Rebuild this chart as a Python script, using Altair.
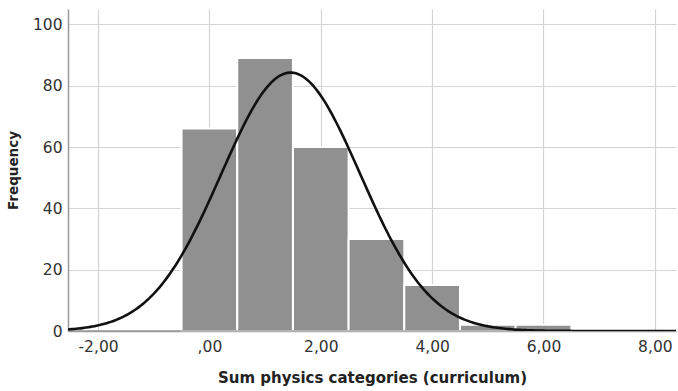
import altair as alt
import numpy as np
import pandas as pd

# Histogram bins (bin width 1, centred on integers)
bin_start = [-0.5, 0.5, 1.5, 2.5, 3.5, 4.5, 5.5]
bin_end = [0.5, 1.5, 2.5, 3.5, 4.5, 5.5, 6.5]
counts = [66, 89, 60, 30, 15, 2, 2]

# Fitted normal curve parameters (as shown by SPSS)
curve_mean = 1.46
curve_sd = 1.25
n_total = sum(counts)
bin_width = 1.0

x_domain = [-2.54, 8.38]
y_domain = [0, 105]
x_ticks = [-2, 0, 2, 4, 6, 8]
y_ticks = [0, 20, 40, 60, 80, 100]

bars = pd.DataFrame({"start": bin_start, "end": bin_end, "count": counts})
xs = np.linspace(x_domain[0], x_domain[1], 300)
curve = pd.DataFrame({
    "x": xs,
    "y": n_total * bin_width / (curve_sd * np.sqrt(2 * np.pi))
    * np.exp(-0.5 * ((xs - curve_mean) / curve_sd) ** 2),
})

label_expr = ("datum.value == 0 ? ',00' : "
              "replace(replace(format(datum.value, '.2f'), '.', ','), '\u2212', '-')")

x_scale = alt.Scale(domain=x_domain, nice=False, zero=False)
y_scale = alt.Scale(domain=y_domain, nice=False)

FONT = "DejaVu Sans"

x_axis = alt.Axis(values=x_ticks, labelExpr=label_expr, title="Sum physics categories (curriculum)",
                  grid=True, gridColor="#d4d4d4", gridWidth=1.2, ticks=False,
                  domainColor="#9a9a9a", domainWidth=1.5,
                  labelFont=FONT, labelFontSize=15.5, labelColor="#333333", labelPadding=8,
                  titleFont=FONT, titleFontSize=15, titleFontWeight="bold",
                  titleColor="#222222", titlePadding=16)
y_axis = alt.Axis(values=y_ticks, title="Frequency",
                  grid=True, gridColor="#d4d4d4", gridWidth=1.2, ticks=False,
                  domainColor="#9a9a9a", domainWidth=1.5,
                  labelFont=FONT, labelFontSize=15.5, labelColor="#333333", labelPadding=6,
                  titleFont=FONT, titleFontSize=13.5, titleFontWeight="bold",
                  titleColor="#222222", titlePadding=12)

bar_layer = alt.Chart(bars).mark_rect(color="#909090", stroke="white", strokeWidth=2).encode(
    x=alt.X("start:Q", scale=x_scale, axis=x_axis),
    x2="end:Q",
    y=alt.Y("count:Q", scale=y_scale, axis=y_axis),
    y2=alt.datum(0),
)

baseline = alt.Chart(pd.DataFrame({"y": [0]})).mark_rule(color="#9a9a9a", strokeWidth=1.5).encode(
    y=alt.Y("y:Q", scale=y_scale),
)

line_layer = alt.Chart(curve).mark_line(color="#111111", strokeWidth=2.6, clip=True).encode(
    x=alt.X("x:Q", scale=x_scale),
    y=alt.Y("y:Q", scale=y_scale),
)

chart = (bar_layer + baseline + line_layer).properties(
    width=608, height=322,
    autosize=alt.AutoSizeParams(type="none"),
    padding={"left": 68, "top": 9, "right": 2, "bottom": 60},
    background="white",
).configure_view(stroke=None)

chart.save("out.html", embed_options={"renderer": "svg", "actions": False})
